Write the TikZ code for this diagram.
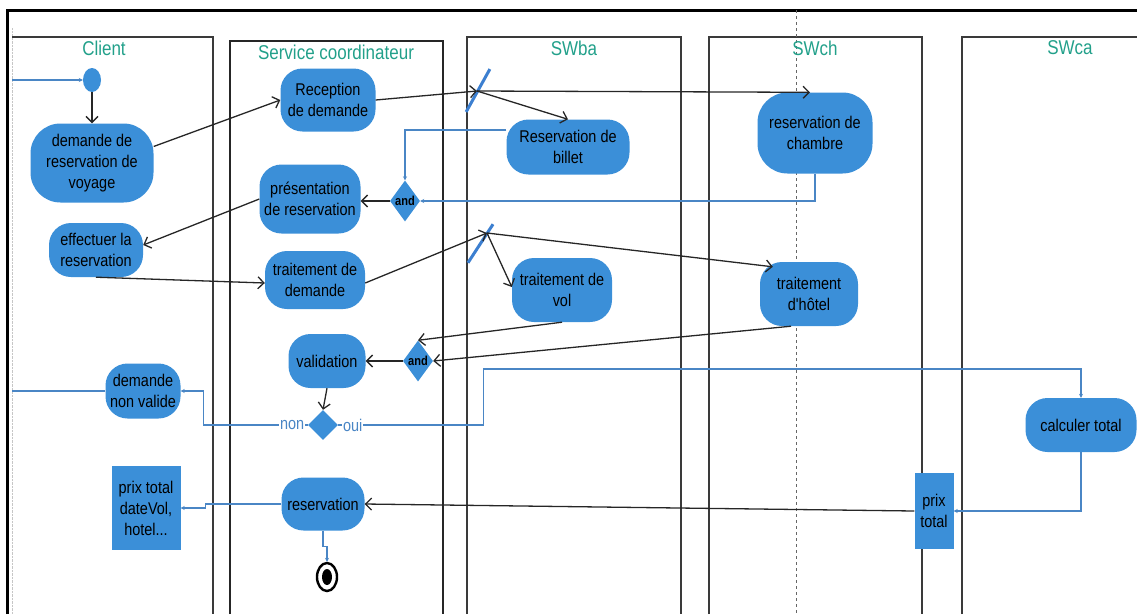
\documentclass[tikz,border=0pt]{standalone}
\usepackage{fontspec}
\setmainfont{Liberation Sans}
\newfontfamily\narrow[FakeStretch=0.85]{Liberation Sans}
\usetikzlibrary{arrows.meta,shapes.geometric,calc}

\definecolor{actblue}{HTML}{3B8FD8}
\definecolor{flowblue}{HTML}{4A86C5}
\definecolor{barblue}{HTML}{3C7FD0}
\definecolor{laneteal}{HTML}{22A08A}
\definecolor{laneline}{HTML}{3A3A3A}

\tikzset{
  act/.style={fill=actblue, draw=none, rounded corners=22pt, align=center,
    inner sep=0pt, text=black, font=\narrow\fontsize{17}{21}\selectfont},
  objbox/.style={fill=actblue, draw=none, align=center, inner sep=0pt,
    text=black, font=\narrow\fontsize{17}{21}\selectfont},
  joinnode/.style={diamond, fill=actblue, draw=none, inner sep=0pt,
    minimum width=30pt, minimum height=41pt,
    font=\narrow\bfseries\fontsize{13}{15}\selectfont},
  forkbar/.style={fill=barblue, draw=none, inner sep=0pt, minimum width=3pt},
  lanetitle/.style={text=laneteal, font=\narrow\fontsize{20}{22}\selectfont},
  lane/.style={draw=laneline, line width=1.1pt},
  lanebold/.style={draw=black!85, line width=1.8pt},
  flow/.style={draw=black!85, line width=1.3pt,
    -{Straight Barb[length=6pt,width=12pt]}},
  bflow/.style={draw=flowblue, line width=1.1pt,
    -{Stealth[length=4pt,width=4pt]}},
  bplain/.style={draw=flowblue, line width=1.1pt},
  guard/.style={text=flowblue, fill=white, inner sep=1pt,
    font=\narrow\fontsize{17}{19}\selectfont},
}

\begin{document}
\begin{tikzpicture}[x=1pt, y=-1pt]
\useasboundingbox (0,0) rectangle (1137,614);

% frame and swimlanes
\draw[gray!45, densely dotted] (12,28) -- (12,614);
\draw[black, line width=3pt] (7,614) -- (7,10) -- (1137,10);
\draw[lane] (12,37) -- (213,37) -- (213,614);
\draw[lanebold] (230,614) -- (230,41) -- (443,41) -- (443,614);
\draw[lane] (467,614) |- (681,37) -- (681,614);
\draw[lane] (709,614) |- (922,37) -- (922,614);
\draw[lane] (962,614) |- (1137,37);
\draw[dashed, black!60, line width=0.9pt] (796,10) -- (796,614);

\node[lanetitle] (tClient) at (104,48) {Client};
\node[lanetitle] (tCoord) at (336,52) {Service coordinateur};
\node[lanetitle] (tBa) at (574,48) {SWba};
\node[lanetitle] (tCh) at (815,48) {SWch};
\node[lanetitle] (tCa) at (1070,48) {SWca};

% activities
\node[ellipse, fill=actblue, inner sep=0pt, minimum width=18pt, minimum height=24pt] (init) at (92,80) {};
\node[act, minimum width=123pt, minimum height=79pt, rounded corners=30pt] (dem) at (92,163) {demande de\\reservation de\\voyage};
\node[act, minimum width=95pt, minimum height=63pt] (rec) at (328,100) {Reception\\de demande};
\node[act, minimum width=101pt, minimum height=69pt] (pres) at (310,199) {présentation\\de reservation};
\node[joinnode] (and1) at (405,201) {and};
\node[act, minimum width=94pt, minimum height=54pt] (eff) at (96,250) {effectuer la\\reservation};
\node[act, minimum width=100pt, minimum height=58pt] (trt) at (315,280) {traitement de\\demande};
\node[act, minimum width=123pt, minimum height=55pt] (bil) at (568,147) {Reservation de\\billet};
\node[act, minimum width=115pt, minimum height=81pt, rounded corners=30pt] (ch) at (815,133) {reservation de\\chambre};
\node[act, minimum width=100pt, minimum height=64pt] (vol) at (562,290) {traitement de\\vol};
\node[act, minimum width=98pt, minimum height=64pt] (hot) at (809,294) {traitement\\d'hôtel};
\node[joinnode] (and2) at (418,361) {and};
\node[act, minimum width=77pt, minimum height=54pt] (val) at (327,361) {validation};
\node[diamond, fill=actblue, inner sep=0pt, minimum width=30pt, minimum height=30pt] (dec) at (323,425) {};
\node[act, minimum width=75pt, minimum height=55pt] (dnv) at (143,391) {demande\\non valide};
\node[act, minimum width=111pt, minimum height=54pt] (calc) at (1081,425) {calculer total};
\node[objbox, minimum width=39pt, minimum height=76pt] (prix) at (934,511) {prix\\total};
\node[act, minimum width=83pt, minimum height=53pt] (res) at (323,504) {reservation};
\node[objbox, minimum width=69pt, minimum height=84pt] (out) at (146,508) {prix total\\dateVol,\\hotel...};
\node[ellipse, draw=black, line width=2.4pt, minimum width=20pt, minimum height=28pt, inner sep=0pt] (fin) at (327,577) {};
\node[ellipse, fill=black, minimum width=10pt, minimum height=16pt, inner sep=0pt] (finc) at (fin.center) {};

% fork bars
\coordinate (fk1) at (477,91);
\coordinate (fk2) at (487,233);
\node[forkbar, minimum height=49pt, rotate=-29] (bar1) at (478,90.5) {};
\node[forkbar, minimum height=46pt, rotate=-33] (bar2) at (480.5,243.5) {};

% open ends of the lanes
\coordinate (initin) at (12,80);
\coordinate (dnvout) at (12,391);

% control flow
\draw[bflow] (initin) -- (init.west);
\draw[flow] (init.south) -- (dem.north);
\draw[flow] (dem.15) -- (rec.west);
\draw[flow] (rec.east) -- (fk1);
\draw[flow] (fk1) -- ([xshift=-5pt]ch.north);
\draw[flow] (fk1) -- (bil.north);
\draw[bflow] ([yshift=17pt]bil.west) -| (and1.north);
\draw[bflow] (ch.south) |- (and1.east);
\draw[flow] (and1.west) -- (and1.west -| pres.east);
\draw[flow] (pres.west) -- ([yshift=5pt]eff.east);
\draw[flow] (eff.south) -- ([yshift=-3pt]trt.west);
\draw[flow] ([yshift=-3pt]trt.east) -- (fk2);
\draw[flow] (fk2) -- ([yshift=3pt]vol.west);
\draw[flow] (fk2) -- ([xshift=13pt,yshift=-5pt]hot.north west);
\draw[flow] (vol.south) -- (and2.north);
\draw[flow] ([xshift=-18pt]hot.south) -- (and2.east);
\draw[flow] (and2.west) -- (val.east);
\draw[flow] (val.south) -- (dec.north);
\draw[bflow] (dec.west) -- node[guard, pos=0.15] {non} ++(-104,0) |- (dnv.east);
\draw[bplain] (dnv.west) -- (dnvout);
\draw[bflow] (dec.east) -- node[guard, pos=0.1] {oui} ++(145,0) -- ++(0,-56) -| (calc.north);
\draw[bflow] (calc.south) |- (prix.east);
\draw[flow] (prix.west) -- (res.east);
\draw[bflow] (res.west) -- ++(-76,0) |- (out.east);
\draw[bflow] (res.south) -- ++(0,16) -| (fin.north);
\end{tikzpicture}
\end{document}
